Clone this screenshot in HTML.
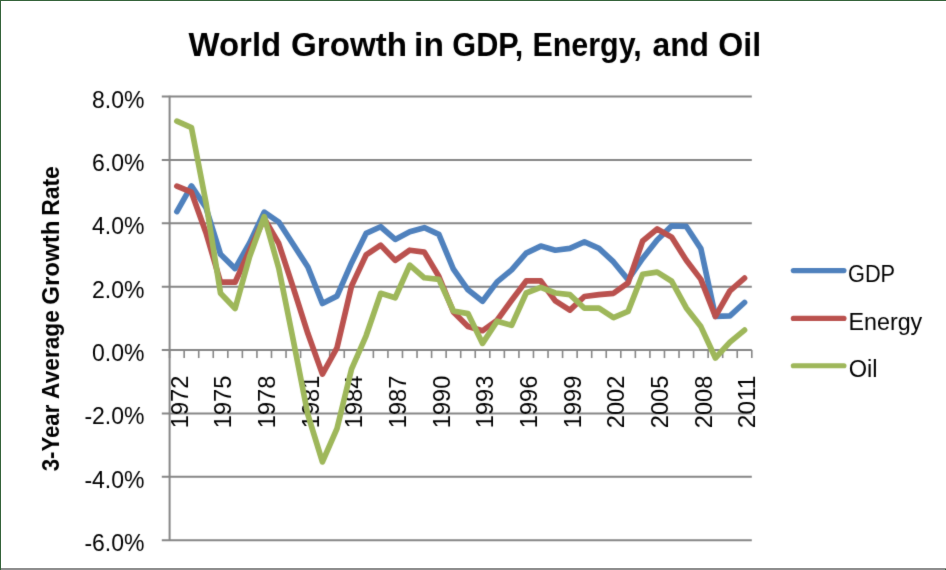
<!DOCTYPE html>
<html><head><meta charset="utf-8"><style>
html,body{margin:0;padding:0;background:#fff;}
svg{display:block;}

text{font-family:"Liberation Sans", sans-serif;fill:#000;}
.t{font-size:23px;}
.yl{font-size:23px;}
.title{font-size:33px;font-weight:bold;}
.at{font-size:23px;font-weight:bold;}
</style></head>
<body><svg width="946" height="570" viewBox="0 0 946 570">
<defs><filter id="soft" x="0" y="0" width="946" height="570" filterUnits="userSpaceOnUse" color-interpolation-filters="sRGB"><feConvolveMatrix order="3" kernelMatrix="0.0183 0.1353 0.0183 0.1353 1 0.1353 0.0183 0.1353 0.0183" edgeMode="duplicate" preserveAlpha="true"/></filter></defs>
<g filter="url(#soft)">
<rect x="0" y="0" width="946" height="570" fill="#fff"/>
<line x1="161.8" y1="96.50" x2="751.80" y2="96.50" stroke="#868686" stroke-width="2"/>
<line x1="161.8" y1="159.89" x2="751.80" y2="159.89" stroke="#868686" stroke-width="2"/>
<line x1="161.8" y1="223.27" x2="751.80" y2="223.27" stroke="#868686" stroke-width="2"/>
<line x1="161.8" y1="286.66" x2="751.80" y2="286.66" stroke="#868686" stroke-width="2"/>
<line x1="161.8" y1="350.04" x2="751.80" y2="350.04" stroke="#868686" stroke-width="2"/>
<line x1="161.8" y1="413.43" x2="751.80" y2="413.43" stroke="#868686" stroke-width="2"/>
<line x1="161.8" y1="476.81" x2="751.80" y2="476.81" stroke="#868686" stroke-width="2"/>
<line x1="161.8" y1="540.20" x2="751.80" y2="540.20" stroke="#868686" stroke-width="2"/>
<line x1="169.6" y1="95.70" x2="169.6" y2="541.00" stroke="#868686" stroke-width="2"/>
<line x1="169.60" y1="350.04" x2="169.60" y2="358.04" stroke="#868686" stroke-width="1.6"/>
<line x1="184.16" y1="350.04" x2="184.16" y2="358.04" stroke="#868686" stroke-width="1.6"/>
<line x1="198.71" y1="350.04" x2="198.71" y2="358.04" stroke="#868686" stroke-width="1.6"/>
<line x1="213.26" y1="350.04" x2="213.26" y2="358.04" stroke="#868686" stroke-width="1.6"/>
<line x1="227.82" y1="350.04" x2="227.82" y2="358.04" stroke="#868686" stroke-width="1.6"/>
<line x1="242.38" y1="350.04" x2="242.38" y2="358.04" stroke="#868686" stroke-width="1.6"/>
<line x1="256.93" y1="350.04" x2="256.93" y2="358.04" stroke="#868686" stroke-width="1.6"/>
<line x1="271.49" y1="350.04" x2="271.49" y2="358.04" stroke="#868686" stroke-width="1.6"/>
<line x1="286.04" y1="350.04" x2="286.04" y2="358.04" stroke="#868686" stroke-width="1.6"/>
<line x1="300.59" y1="350.04" x2="300.59" y2="358.04" stroke="#868686" stroke-width="1.6"/>
<line x1="315.15" y1="350.04" x2="315.15" y2="358.04" stroke="#868686" stroke-width="1.6"/>
<line x1="329.70" y1="350.04" x2="329.70" y2="358.04" stroke="#868686" stroke-width="1.6"/>
<line x1="344.26" y1="350.04" x2="344.26" y2="358.04" stroke="#868686" stroke-width="1.6"/>
<line x1="358.81" y1="350.04" x2="358.81" y2="358.04" stroke="#868686" stroke-width="1.6"/>
<line x1="373.37" y1="350.04" x2="373.37" y2="358.04" stroke="#868686" stroke-width="1.6"/>
<line x1="387.92" y1="350.04" x2="387.92" y2="358.04" stroke="#868686" stroke-width="1.6"/>
<line x1="402.48" y1="350.04" x2="402.48" y2="358.04" stroke="#868686" stroke-width="1.6"/>
<line x1="417.03" y1="350.04" x2="417.03" y2="358.04" stroke="#868686" stroke-width="1.6"/>
<line x1="431.59" y1="350.04" x2="431.59" y2="358.04" stroke="#868686" stroke-width="1.6"/>
<line x1="446.14" y1="350.04" x2="446.14" y2="358.04" stroke="#868686" stroke-width="1.6"/>
<line x1="460.70" y1="350.04" x2="460.70" y2="358.04" stroke="#868686" stroke-width="1.6"/>
<line x1="475.25" y1="350.04" x2="475.25" y2="358.04" stroke="#868686" stroke-width="1.6"/>
<line x1="489.81" y1="350.04" x2="489.81" y2="358.04" stroke="#868686" stroke-width="1.6"/>
<line x1="504.36" y1="350.04" x2="504.36" y2="358.04" stroke="#868686" stroke-width="1.6"/>
<line x1="518.92" y1="350.04" x2="518.92" y2="358.04" stroke="#868686" stroke-width="1.6"/>
<line x1="533.47" y1="350.04" x2="533.47" y2="358.04" stroke="#868686" stroke-width="1.6"/>
<line x1="548.03" y1="350.04" x2="548.03" y2="358.04" stroke="#868686" stroke-width="1.6"/>
<line x1="562.58" y1="350.04" x2="562.58" y2="358.04" stroke="#868686" stroke-width="1.6"/>
<line x1="577.14" y1="350.04" x2="577.14" y2="358.04" stroke="#868686" stroke-width="1.6"/>
<line x1="591.69" y1="350.04" x2="591.69" y2="358.04" stroke="#868686" stroke-width="1.6"/>
<line x1="606.25" y1="350.04" x2="606.25" y2="358.04" stroke="#868686" stroke-width="1.6"/>
<line x1="620.80" y1="350.04" x2="620.80" y2="358.04" stroke="#868686" stroke-width="1.6"/>
<line x1="635.36" y1="350.04" x2="635.36" y2="358.04" stroke="#868686" stroke-width="1.6"/>
<line x1="649.91" y1="350.04" x2="649.91" y2="358.04" stroke="#868686" stroke-width="1.6"/>
<line x1="664.47" y1="350.04" x2="664.47" y2="358.04" stroke="#868686" stroke-width="1.6"/>
<line x1="679.02" y1="350.04" x2="679.02" y2="358.04" stroke="#868686" stroke-width="1.6"/>
<line x1="693.58" y1="350.04" x2="693.58" y2="358.04" stroke="#868686" stroke-width="1.6"/>
<line x1="708.13" y1="350.04" x2="708.13" y2="358.04" stroke="#868686" stroke-width="1.6"/>
<line x1="722.69" y1="350.04" x2="722.69" y2="358.04" stroke="#868686" stroke-width="1.6"/>
<line x1="737.24" y1="350.04" x2="737.24" y2="358.04" stroke="#868686" stroke-width="1.6"/>
<line x1="751.80" y1="350.04" x2="751.80" y2="358.04" stroke="#868686" stroke-width="1.6"/>
<text x="144.5" y="107.50" text-anchor="end" class="yl">8.0%</text>
<text x="144.5" y="170.89" text-anchor="end" class="yl">6.0%</text>
<text x="144.5" y="234.27" text-anchor="end" class="yl">4.0%</text>
<text x="144.5" y="297.66" text-anchor="end" class="yl">2.0%</text>
<text x="144.5" y="361.04" text-anchor="end" class="yl">0.0%</text>
<text x="144.5" y="424.43" text-anchor="end" class="yl">-2.0%</text>
<text x="144.5" y="487.81" text-anchor="end" class="yl">-4.0%</text>
<text x="144.5" y="551.20" text-anchor="end" class="yl">-6.0%</text>
<text transform="translate(187.58,375.7) rotate(-90)" x="0" y="0" text-anchor="end" class="t" textLength="52.5" lengthAdjust="spacingAndGlyphs">1972</text>
<text transform="translate(231.24,375.7) rotate(-90)" x="0" y="0" text-anchor="end" class="t" textLength="52.5" lengthAdjust="spacingAndGlyphs">1975</text>
<text transform="translate(274.91,375.7) rotate(-90)" x="0" y="0" text-anchor="end" class="t" textLength="52.5" lengthAdjust="spacingAndGlyphs">1978</text>
<text transform="translate(318.57,375.7) rotate(-90)" x="0" y="0" text-anchor="end" class="t" textLength="52.5" lengthAdjust="spacingAndGlyphs">1981</text>
<text transform="translate(362.24,375.7) rotate(-90)" x="0" y="0" text-anchor="end" class="t" textLength="52.5" lengthAdjust="spacingAndGlyphs">1984</text>
<text transform="translate(405.90,375.7) rotate(-90)" x="0" y="0" text-anchor="end" class="t" textLength="52.5" lengthAdjust="spacingAndGlyphs">1987</text>
<text transform="translate(449.57,375.7) rotate(-90)" x="0" y="0" text-anchor="end" class="t" textLength="52.5" lengthAdjust="spacingAndGlyphs">1990</text>
<text transform="translate(493.23,375.7) rotate(-90)" x="0" y="0" text-anchor="end" class="t" textLength="52.5" lengthAdjust="spacingAndGlyphs">1993</text>
<text transform="translate(536.90,375.7) rotate(-90)" x="0" y="0" text-anchor="end" class="t" textLength="52.5" lengthAdjust="spacingAndGlyphs">1996</text>
<text transform="translate(580.56,375.7) rotate(-90)" x="0" y="0" text-anchor="end" class="t" textLength="52.5" lengthAdjust="spacingAndGlyphs">1999</text>
<text transform="translate(624.23,375.7) rotate(-90)" x="0" y="0" text-anchor="end" class="t" textLength="52.5" lengthAdjust="spacingAndGlyphs">2002</text>
<text transform="translate(667.89,375.7) rotate(-90)" x="0" y="0" text-anchor="end" class="t" textLength="52.5" lengthAdjust="spacingAndGlyphs">2005</text>
<text transform="translate(711.56,375.7) rotate(-90)" x="0" y="0" text-anchor="end" class="t" textLength="52.5" lengthAdjust="spacingAndGlyphs">2008</text>
<text transform="translate(755.22,375.7) rotate(-90)" x="0" y="0" text-anchor="end" class="t" textLength="52.5" lengthAdjust="spacingAndGlyphs">2011</text>
<polyline points="176.88,211.55 191.43,185.87 205.99,207.74 220.54,254.33 235.10,268.59 249.65,242.92 264.21,212.18 278.76,222.00 293.32,244.51 307.87,267.01 322.43,303.45 336.98,296.17 351.54,262.89 366.09,233.41 380.65,226.76 395.20,239.43 409.76,231.83 424.31,227.71 438.87,234.36 453.42,269.23 467.98,289.83 482.53,301.24 497.09,281.90 511.64,269.86 526.20,253.06 540.75,246.09 555.31,250.21 569.86,248.31 584.42,241.97 598.97,248.31 613.53,261.94 628.08,279.68 642.64,258.45 657.19,240.07 671.75,225.81 686.30,226.44 700.86,248.63 715.41,316.45 729.97,315.81 744.52,302.50" fill="none" stroke="#4f81bd" stroke-width="5.7" stroke-linejoin="round" stroke-linecap="round"/>
<polyline points="176.88,186.19 191.43,192.21 205.99,232.78 220.54,282.22 235.10,282.22 249.65,250.21 264.21,218.52 278.76,243.55 293.32,287.92 307.87,333.56 322.43,374.13 336.98,347.82 351.54,286.02 366.09,254.96 380.65,245.14 395.20,260.35 409.76,250.21 424.31,252.11 438.87,276.52 453.42,312.01 467.98,326.59 482.53,330.71 497.09,320.25 511.64,300.29 526.20,280.95 540.75,280.95 555.31,300.92 569.86,310.11 584.42,296.48 598.97,294.58 613.53,293.31 628.08,282.85 642.64,241.02 657.19,228.98 671.75,237.22 686.30,260.35 700.86,279.37 715.41,316.45 729.97,290.78 744.52,278.10" fill="none" stroke="#ba514e" stroke-width="5.7" stroke-linejoin="round" stroke-linecap="round"/>
<polyline points="176.88,121.22 191.43,127.56 205.99,202.67 220.54,293.31 235.10,308.53 249.65,256.55 264.21,216.62 278.76,268.28 293.32,340.54 307.87,414.70 322.43,461.92 336.98,428.64 351.54,369.06 366.09,335.78 380.65,293.31 395.20,297.75 409.76,265.11 424.31,277.78 438.87,279.37 453.42,311.06 467.98,313.60 482.53,343.39 497.09,321.20 511.64,325.32 526.20,293.00 540.75,287.29 555.31,293.00 569.86,294.58 584.42,308.21 598.97,308.21 613.53,317.72 628.08,311.38 642.64,274.30 657.19,272.08 671.75,281.27 686.30,307.89 700.86,326.59 715.41,357.97 729.97,342.12 744.52,330.08" fill="none" stroke="#9eb75a" stroke-width="5.7" stroke-linejoin="round" stroke-linecap="round"/>
<line x1="793.3" y1="270.60" x2="844" y2="270.60" stroke="#4f81bd" stroke-width="5.1" stroke-linecap="round"/>
<text x="848" y="281.80" class="t" textLength="47.1" lengthAdjust="spacingAndGlyphs">GDP</text>
<line x1="793.3" y1="318.40" x2="844" y2="318.40" stroke="#ba514e" stroke-width="5.1" stroke-linecap="round"/>
<text x="848.5" y="329.60" class="t" textLength="73.7" lengthAdjust="spacingAndGlyphs">Energy</text>
<line x1="793.3" y1="365.70" x2="844" y2="365.70" stroke="#9eb75a" stroke-width="5.1" stroke-linecap="round"/>
<text x="848.7" y="376.90" class="t" textLength="28.8" lengthAdjust="spacingAndGlyphs">Oil</text>
<text x="188.50" y="56.4" class="title" textLength="92.69" lengthAdjust="spacingAndGlyphs">World</text>
<text x="290.99" y="56.4" class="title" textLength="116.10" lengthAdjust="spacingAndGlyphs">Growth</text>
<text x="414.07" y="56.4" class="title" textLength="29.80" lengthAdjust="spacingAndGlyphs">in</text>
<text x="452.37" y="56.4" class="title" textLength="70.99" lengthAdjust="spacingAndGlyphs">GDP,</text>
<text x="532.46" y="56.4" class="title" textLength="109.31" lengthAdjust="spacingAndGlyphs">Energy,</text>
<text x="652.54" y="56.4" class="title" textLength="56.47" lengthAdjust="spacingAndGlyphs">and</text>
<text x="718.33" y="56.4" class="title" textLength="42.83" lengthAdjust="spacingAndGlyphs">Oil</text>
<text transform="translate(58.7,0) rotate(-90)" x="-471.37" y="0" class="at" textLength="66.73" lengthAdjust="spacingAndGlyphs">3-Year</text>
<text transform="translate(58.7,0) rotate(-90)" x="-398.89" y="0" class="at" textLength="88.71" lengthAdjust="spacingAndGlyphs">Average</text>
<text transform="translate(58.7,0) rotate(-90)" x="-304.75" y="0" class="at" textLength="84.22" lengthAdjust="spacingAndGlyphs">Growth</text>
<text transform="translate(58.7,0) rotate(-90)" x="-215.68" y="0" class="at" textLength="49.44" lengthAdjust="spacingAndGlyphs">Rate</text>
</g>
<rect x="0" y="0" width="946" height="1" fill="#35633a"/><rect x="0" y="0" width="1" height="570" fill="#35633a"/><rect x="1" y="568" width="945" height="2" fill="#8e8e8e"/><rect x="945" y="569" width="1" height="1" fill="#35633a"/>
</svg></body></html>
